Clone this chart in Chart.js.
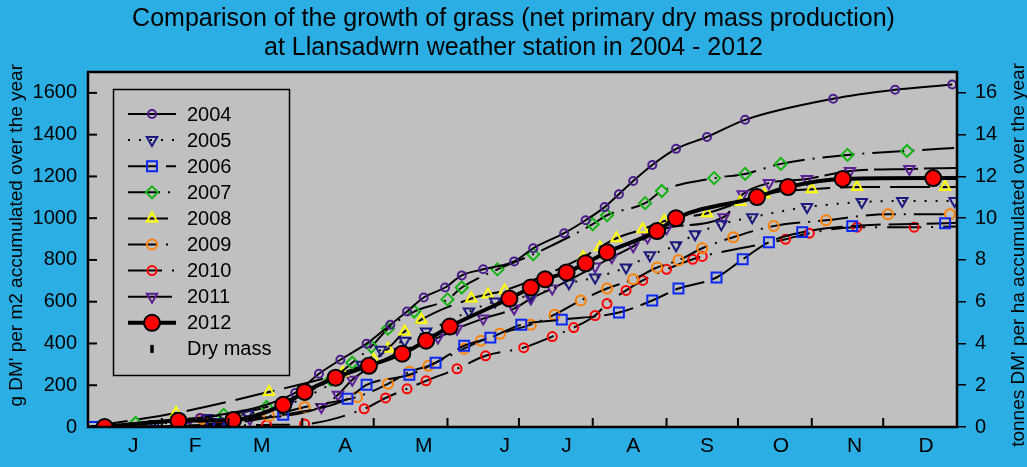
<!DOCTYPE html>
<html>
<head>
<meta charset="utf-8">
<script src="https://cdn.jsdelivr.net/npm/chart.js@4"></script>
<style>
html,body{margin:0;padding:0;background:#2aaee3;}
canvas{display:block;}
</style>
</head>
<body>
<canvas id="c" width="1027" height="467"></canvas>
<script>
// month letters, where they sit (day of year) and month boundaries
var months=['J','F','M','A','M','J','J','A','S','O','N','D'];
var monthLabelDays=[19,45,73,108,141,175,201,229,260,291,322,352];
var monthStarts=[0,31,59,90,120,151,181,212,243,273,304,334,365];
var gTicks=[0,200,400,600,800,1000,1200,1400,1600];
var tTicks=[0,2,4,6,8,10,12,14,16];

// day of year / accumulated dry mass g per m2
var days2004=[0,47,87,97,106,117,127,134,141,150,157,166,179,187,200,209,217,223,229,237,247,260,276,313,339,363];
var dm2004=[0,43,163,255,322,399,490,553,620,668,726,755,793,856,928,990,1053,1115,1178,1255,1332,1389,1471,1572,1615,1640];
var days2005=[0,28,50,67,84,115,123,133,142,160,171,186,202,213,226,236,247,255,266,279,302,325,342,364];
var dm2005=[0,14,43,63,106,298,370,413,457,553,601,630,688,716,764,822,870,923,971,1005,1053,1077,1082,1082];
var days2006=[2,55,82,109,117,135,146,158,169,182,199,223,237,248,264,275,286,300,321,360,365];
var dm2006=[0,14,58,135,202,250,308,389,428,490,514,548,606,663,716,803,885,933,962,976,978];
var days2007=[0,20,57,75,102,111,119,126,137,151,157,172,187,212,218,234,241,263,276,291,319,344,365];
var dm2007=[0,19,58,96,226,308,385,471,553,611,668,755,827,971,1014,1072,1130,1192,1212,1260,1303,1322,1337];
var days2008=[0,37,76,107,120,126,133,140,161,168,175,208,215,222,233,242,260,274,284,304,323,360,365];
var dm2008=[0,67,168,260,322,375,457,514,615,635,654,813,861,904,947,986,1024,1077,1115,1139,1149,1149,1150];
var days2009=[0,48,76,91,113,126,135,143,158,165,173,186,196,207,218,229,239,248,258,271,288,310,336,362];
var dm2009=[0,38,53,96,144,207,264,293,375,413,447,490,538,606,663,707,764,798,856,909,962,990,1019,1019];
var days2010=[0,55,75,91,116,125,134,142,155,167,183,195,204,213,218,226,233,243,254,258,293,303,323,347,365];
var dm2010=[0,5,10,14,87,139,183,221,279,341,380,433,476,534,591,654,702,755,803,817,899,928,957,957,960];
var days2011=[0,41,68,98,105,111,119,131,147,155,166,179,186,195,213,220,229,235,243,267,275,286,302,320,345,365];
var dm2011=[0,5,38,96,154,226,288,360,428,471,519,567,615,663,769,813,865,909,952,1005,1115,1168,1188,1226,1236,1240];
var days2012=[7,38,61,82,91,104,118,132,142,152,177,186,192,201,209,218,239,247,281,294,317,355,365];
var dm2012=[0,30,34,106,168,236,293,351,413,481,615,668,707,740,784,837,938,1000,1101,1149,1188,1192,1192];

var series=[
  {label:'2004',d:days2004,v:dm2004,c:'#4b1c8c',ps:'circle',r:4,rot:0,dash:[]},
  {label:'2005',d:days2005,v:dm2005,c:'#1a1a80',ps:'triangle',r:6,rot:180,dash:[2,9]},
  {label:'2006',d:days2006,v:dm2006,c:'#0a28f0',ps:'rect',r:7,rot:0,dash:[30,8]},
  {label:'2007',d:days2007,v:dm2007,c:'#14b414',ps:'rectRot',r:6,rot:0,dash:[32,8,2,8]},
  {label:'2008',d:days2008,v:dm2008,c:'#ffff00',ps:'triangle',r:6,rot:0,dash:[40,10]},
  {label:'2009',d:days2009,v:dm2009,c:'#ff8000',ps:'circle',r:5,rot:0,dash:[30,8,2,8]},
  {label:'2010',d:days2010,v:dm2010,c:'#ff0000',ps:'circle',r:4.5,rot:0,dash:[34,10,2,10]},
  {label:'2011',d:days2011,v:dm2011,c:'#5b2096',ps:'triangle',r:6,rot:180,dash:[44,6]},
  {label:'2012',d:days2012,v:dm2012,c:'#000',fill:'#ff0000',ps:'circle',r:8,rot:0,dash:[],w:4,order:-1}
];

function pts(d,v){return d.map(function(x,i){return {x:x,y:v[i]};});}

var datasets=series.map(function(s){
  return {
    label:s.label,data:pts(s.d,s.v),
    borderColor:'#000',borderWidth:s.w||2,borderDash:s.dash,
    pointStyle:s.ps,pointRotation:s.rot,pointBorderColor:s.c,
    pointBackgroundColor:s.fill||'rgba(0,0,0,0)',pointBorderWidth:2,
    pointRadius:function(ctx){var x=ctx.raw&&ctx.raw.x;return (x===0||x===365)?0:s.r;},
    pointHoverRadius:s.r,
    cubicInterpolationMode:'monotone',fill:false,order:s.order||1
  };
});
datasets.push({label:'Dry mass',data:[],borderColor:'#000',borderWidth:3,pointStyle:'line',pointRotation:90,pointRadius:4});

var FONT='"Liberation Sans", Arial, sans-serif';

var bgPlugin={id:'bg',beforeDraw:function(chart){
  var a=chart.chartArea,ctx=chart.ctx;
  ctx.save();ctx.fillStyle='#c0c0c0';ctx.fillRect(a.left,a.top,a.right-a.left,a.bottom-a.top);ctx.restore();
}};

var framePlugin={id:'frame',afterDatasetsDraw:function(chart){
  var a=chart.chartArea,ctx=chart.ctx,x=chart.scales.x,y=chart.scales.y;
  ctx.save();
  ctx.strokeStyle='#000';ctx.lineWidth=2;
  monthStarts.forEach(function(m){var px=x.getPixelForValue(m);ctx.beginPath();ctx.moveTo(px,a.bottom);ctx.lineTo(px,a.bottom-9);ctx.stroke();});
  gTicks.forEach(function(v){var py=y.getPixelForValue(v);ctx.beginPath();ctx.moveTo(a.left,py);ctx.lineTo(a.left+9,py);ctx.stroke();});
  ctx.lineWidth=2.5;ctx.strokeRect(a.left,a.top,a.right-a.left,a.bottom-a.top);
  ctx.restore();
}};

var legendPlugin={id:'boxLegend',afterDraw:function(chart){
  var a=chart.chartArea,ctx=chart.ctx;
  var L=a.left+25,T=a.top+17,W=176,H=286;
  ctx.save();
  ctx.fillStyle='#c0c0c0';ctx.fillRect(L,T,W,H);
  ctx.strokeStyle='#000';ctx.lineWidth=1.5;ctx.strokeRect(L+0.5,T+0.5,W,H);
  chart.data.datasets.forEach(function(ds,i){
    var yy=T+25+26.1*i,cx=L+39;
    if(ds.data.length){
      ctx.strokeStyle='#000';ctx.lineWidth=ds.borderWidth;ctx.setLineDash(ds.borderDash||[]);
      ctx.beginPath();ctx.moveTo(L+15,yy);ctx.lineTo(L+63,yy);ctx.stroke();
      ctx.setLineDash([]);
      ctx.strokeStyle=ds.pointBorderColor;ctx.fillStyle=ds.pointBackgroundColor;ctx.lineWidth=ds.pointBorderWidth;
      Chart.helpers.drawPoint(ctx,{pointStyle:ds.pointStyle,rotation:ds.pointRotation,radius:ds.pointHoverRadius,borderWidth:ds.pointBorderWidth},cx,yy);
    }else{
      ctx.strokeStyle='#000';ctx.lineWidth=3.5;ctx.beginPath();ctx.moveTo(cx,yy-4);ctx.lineTo(cx,yy+4);ctx.stroke();
    }
    ctx.fillStyle='#000';ctx.font='20px '+FONT;ctx.textBaseline='middle';ctx.textAlign='left';
    ctx.fillText(ds.label,L+74,yy+1);
  });
  // axis titles, read bottom to top on both sides
  ctx.font='19px '+FONT;ctx.fillStyle='#000';ctx.textAlign='right';ctx.textBaseline='middle';
  ctx.save();ctx.translate(17,64);ctx.rotate(-Math.PI/2);ctx.fillText("g DM' per m2 accumulated over the year",0,0);ctx.restore();
  ctx.save();ctx.translate(1019,63);ctx.rotate(-Math.PI/2);ctx.fillText("tonnes DM' per ha accumulated over the year",0,0);ctx.restore();
  ctx.restore();
}};

function fixed(list){return function(s){s.ticks=list.map(function(v){return {value:v};});};}

new Chart(document.getElementById('c').getContext('2d'),{
  type:'line',
  data:{datasets:datasets},
  options:{
    responsive:false,animation:false,devicePixelRatio:1,
    layout:{padding:0},
    plugins:{
      legend:{display:false},tooltip:{enabled:false},
      title:{display:true,text:['Comparison of the growth of grass (net primary dry mass production)','at Llansadwrn weather station in 2004 - 2012'],
        color:'#000',font:{family:FONT,size:25,weight:'normal',lineHeight:1.16},padding:{top:5,bottom:9}}
    },
    scales:{
      x:{type:'linear',position:'bottom',min:0,max:365,
        afterFit:function(s){s.height=40;},
        afterBuildTicks:fixed(monthLabelDays),
        ticks:{autoSkip:false,maxRotation:0,padding:7,color:'#000',font:{family:FONT,size:21},
          callback:function(v,i){return months[i];}},
        grid:{display:false,drawTicks:false},border:{display:false}},
      y:{type:'linear',position:'left',min:0,max:1700,
        afterFit:function(s){s.width=88;},
        afterBuildTicks:fixed(gTicks),
        ticks:{padding:11,color:'#000',font:{family:FONT,size:20},callback:function(v){return String(v);}},
        grid:{display:false,drawTicks:false},border:{display:false}},
      y2:{type:'linear',position:'right',min:0,max:17,
        afterFit:function(s){s.width=70;},
        afterBuildTicks:fixed(tTicks),
        ticks:{padding:9,color:'#000',font:{family:FONT,size:20},callback:function(v){return String(v);}},
        grid:{drawOnChartArea:false,drawTicks:true,tickLength:9,color:'#000',lineWidth:1.5},border:{display:false}}
    }
  },
  plugins:[bgPlugin,framePlugin,legendPlugin]
});
</script>
</body>
</html>
